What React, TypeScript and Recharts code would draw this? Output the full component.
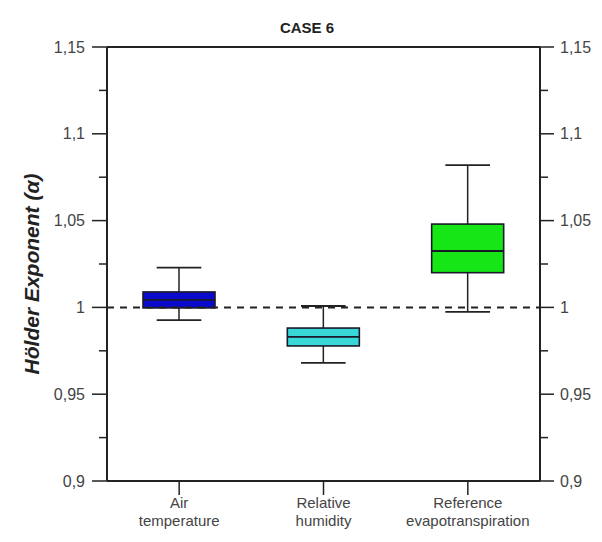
import React from 'react';
import { ComposedChart, Bar, XAxis, YAxis, ReferenceLine } from 'recharts';

const categories = ['Air temperature', 'Relative humidity', 'Reference evapotranspiration'];
const categoryLines = [['Air', 'temperature'], ['Relative', 'humidity'], ['Reference', 'evapotranspiration']];
const whiskerLow = [0.9927, 0.968, 0.9974];
const quartile1 = [0.9997, 0.9778, 1.02];
const medians = [1.0043, 0.983, 1.0325];
const quartile3 = [1.0089, 0.9881, 1.048];
const whiskerHigh = [1.0229, 1.0008, 1.082];
const boxColors = ['#0a0acd', '#38d8d8', '#16e616'];

const yTicks = [0.9, 0.925, 0.95, 0.975, 1, 1.025, 1.05, 1.075, 1.1, 1.125, 1.15];
const yTickLabels = ['0,9', '', '0,95', '', '1', '', '1,05', '', '1,1', '', '1,15'];

const FONT = 'Liberation Sans, Arial, sans-serif';
const AXIS = '#222';

const data = categories.map((name, i) => ({
  name,
  range: [whiskerLow[i], whiskerHigh[i]],
  low: whiskerLow[i],
  q1: quartile1[i],
  med: medians[i],
  q3: quartile3[i],
  high: whiskerHigh[i],
  color: boxColors[i],
  lines: categoryLines[i],
}));

const labelFor = (v: number) => {
  const idx = yTicks.findIndex((t) => Math.abs(t - v) < 1e-9);
  return idx >= 0 ? yTickLabels[idx] : '';
};

const LeftTick = (props: any) => {
  const { x, y, payload } = props;
  const lab = labelFor(payload.value);
  const len = lab ? 15 : 8;
  return (
    <g>
      <line x1={x - len} x2={x} y1={y} y2={y} stroke={AXIS} strokeWidth={1.5} />
      {lab && (
        <text x={x - 22} y={y} dy="0.35em" textAnchor="end" fontSize={16} fill="#444" fontFamily={FONT}>
          {lab}
        </text>
      )}
    </g>
  );
};

const RightTick = (props: any) => {
  const { x, y, payload } = props;
  const lab = labelFor(payload.value);
  const len = lab ? 14 : 8;
  return (
    <g>
      <line x1={x} x2={x + len} y1={y} y2={y} stroke={AXIS} strokeWidth={1.5} />
      {lab && (
        <text x={x + 20} y={y} dy="0.35em" textAnchor="start" fontSize={16} fill="#444" fontFamily={FONT}>
          {lab}
        </text>
      )}
    </g>
  );
};

const XTick = (props: any) => {
  const { x, y, payload } = props;
  const idx = categories.indexOf(payload.value);
  const lines = idx >= 0 ? categoryLines[idx] : [String(payload.value)];
  return (
    <g>
      {lines.map((ln, i) => (
        <text key={i} x={x} y={y + 13 + i * 18} textAnchor="middle" fontSize={15} fill="#444" fontFamily={FONT}>
          {ln}
        </text>
      ))}
    </g>
  );
};

const BoxShape = (props: any) => {
  const { x, y, width, height, payload } = props;
  if (!payload) return null;
  const lo = payload.low;
  const hi = payload.high;
  const top = Math.min(y, y + height);
  const h = Math.abs(height);
  const toPx = (v: number) => top + ((hi - v) / (hi - lo)) * h;
  const cx = x + width / 2;
  const capHalf = width * 0.31;
  const yq3 = toPx(payload.q3);
  const yq1 = toPx(payload.q1);
  return (
    <g>
      <line x1={cx} x2={cx} y1={toPx(hi)} y2={yq3} stroke="#222" strokeWidth={1.5} />
      <line x1={cx} x2={cx} y1={yq1} y2={toPx(lo)} stroke="#222" strokeWidth={1.5} />
      <line x1={cx - capHalf} x2={cx + capHalf} y1={toPx(hi)} y2={toPx(hi)} stroke="#222" strokeWidth={1.8} />
      <line x1={cx - capHalf} x2={cx + capHalf} y1={toPx(lo)} y2={toPx(lo)} stroke="#222" strokeWidth={1.8} />
      <rect x={x} y={yq3} width={width} height={yq1 - yq3} fill={payload.color} stroke="#1a1a2a" strokeWidth={1.6} />
      <line x1={x} x2={x + width} y1={toPx(payload.med)} y2={toPx(payload.med)} stroke="#1a1a2a" strokeWidth={1.8} />
    </g>
  );
};

const YLabel = (props: any) => {
  const vb = props.viewBox || { x: 0, y: 47, width: 107, height: 434 };
  const cx = vb.x + 32;
  const cy = vb.y + vb.height / 2 + 10;
  return (
    <text
      x={cx}
      y={cy}
      transform={`rotate(-90, ${cx}, ${cy})`}
      textAnchor="middle"
      dy="0.35em"
      fontSize={21}
      fontWeight="bold"
      fontStyle="italic"
      fill="#222"
      fontFamily={FONT}
    >
      Hölder Exponent  (α)
    </text>
  );
};

export default function App() {
  return (
    <div style={{ position: 'absolute', left: 0, top: 0, width: 602, height: 542, background: '#fff' }}>
      <div
        style={{
          position: 'absolute',
          left: 207,
          top: 19,
          width: 200,
          textAlign: 'center',
          fontFamily: FONT,
          fontWeight: 'bold',
          fontSize: 15,
          color: '#222',
        }}
      >
        CASE 6
      </div>
      <ComposedChart
        width={602}
        height={542}
        data={data}
        margin={{ top: 47, right: 0, bottom: 0, left: 0 }}
        barCategoryGap={0}
      >
        <XAxis
          dataKey="name"
          type="category"
          height={61}
          interval={0}
          tickSize={14}
          tickMargin={0}
          tickLine={{ stroke: AXIS, strokeWidth: 1.5 }}
          axisLine={{ stroke: AXIS, strokeWidth: 2 }}
          tick={<XTick />}
        />
        <YAxis
          yAxisId="left"
          domain={[0.9, 1.15]}
          ticks={yTicks}
          interval={0}
          width={107}
          tickSize={0}
          tickMargin={0}
          tickLine={false}
          axisLine={{ stroke: AXIS, strokeWidth: 2 }}
          tick={<LeftTick />}
          allowDataOverflow
          label={<YLabel />}
        />
        <YAxis
          yAxisId="right"
          orientation="right"
          domain={[0.9, 1.15]}
          ticks={yTicks}
          interval={0}
          width={62}
          tickSize={0}
          tickMargin={0}
          tickLine={false}
          axisLine={{ stroke: AXIS, strokeWidth: 2 }}
          tick={<RightTick />}
          allowDataOverflow
        />
        <ReferenceLine yAxisId="left" y={1.15} stroke={AXIS} strokeWidth={2} />
        <ReferenceLine yAxisId="left" y={1} stroke="#222" strokeWidth={2} strokeDasharray="7 6" />
        <Bar yAxisId="left" dataKey="range" barSize={72} shape={<BoxShape />} isAnimationActive={false} />
      </ComposedChart>
    </div>
  );
}
